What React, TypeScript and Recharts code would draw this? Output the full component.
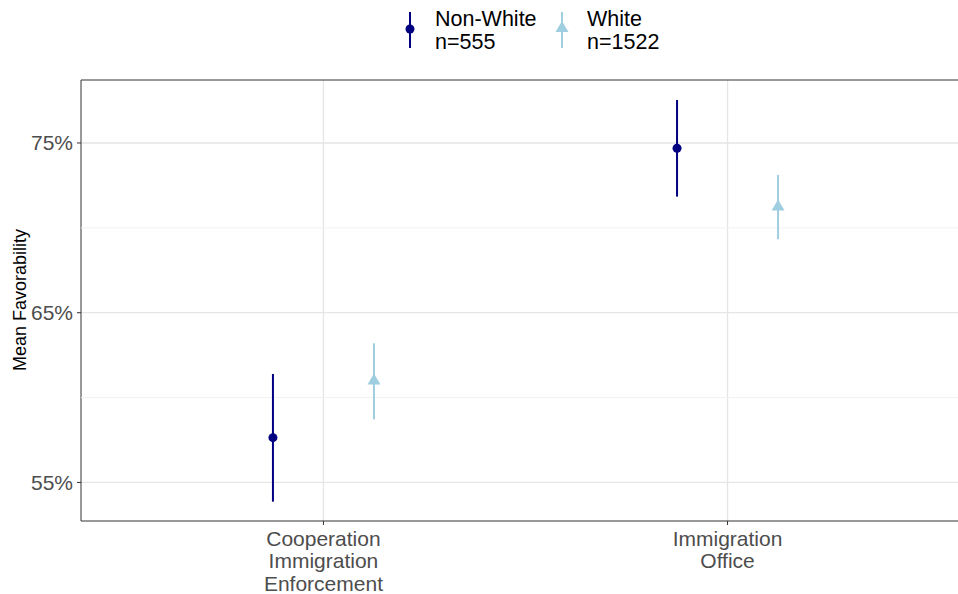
import React from "react";
import {
  CartesianGrid,
  ErrorBar,
  ReferenceArea,
  ReferenceLine,
  Scatter,
  ScatterChart,
  XAxis,
  YAxis,
} from "recharts";

// Two outcomes, two groups; point estimate with a confidence interval.
const CATEGORIES = ["Cooperation\nImmigration\nEnforcement", "Immigration\nOffice"];
const NON_WHITE_MEAN = [57.64, 74.69];
const NON_WHITE_LOW = [53.87, 71.84];
const NON_WHITE_HIGH = [61.39, 77.53];
const WHITE_MEAN = [61.04, 71.29];
const WHITE_LOW = [58.72, 69.33];
const WHITE_HIGH = [63.2, 73.12];
const Y_TICKS = [55, 65, 75];
const Y_MINOR = [60, 70];

const NAVY = "#000080";
const LIGHT = "#a0cee1";
const GRID = "#e5e5e5";
const GRID_MINOR = "#f1f1f1";
const AXIS_TEXT = "#4d4d4d";
const FONT = "'Liberation Sans', Arial, sans-serif";

const DODGE = 0.125;
const X_DOMAIN: [number, number] = [0.4, CATEGORIES.length + 0.6];
const Y_DOMAIN: [number, number] = [52.73, 78.71];

const build = (mean: number[], low: number[], high: number[], shift: number) =>
  mean.map((m, i) => ({
    x: i + 1 + shift,
    y: m,
    err: [m - low[i], high[i] - m],
  }));

const nonWhite = build(NON_WHITE_MEAN, NON_WHITE_LOW, NON_WHITE_HIGH, -DODGE);
const white = build(WHITE_MEAN, WHITE_LOW, WHITE_HIGH, DODGE);

function Dot(props: any) {
  const { cx, cy } = props;
  return <circle cx={cx} cy={cy} r={4.5} fill={NAVY} />;
}

function Tri(props: any) {
  const { cx, cy } = props;
  const s = 6.5;
  return (
    <path
      d={`M${cx},${cy - s} L${cx + s},${cy + s * 0.7} L${cx - s},${cy + s * 0.7} Z`}
      fill={LIGHT}
    />
  );
}

function CategoryTick(props: any) {
  const { x, y, payload } = props;
  const lines = CATEGORIES[Math.round(payload.value) - 1].split("\n");
  return (
    <text x={x} y={y} textAnchor="middle" fill={AXIS_TEXT} fontSize={21} fontFamily={FONT}>
      {lines.map((l, i) => (
        <tspan key={i} x={x} dy={i === 0 ? 18.5 : 22.5}>
          {l}
        </tspan>
      ))}
    </text>
  );
}

function LegendKey({ kind }: { kind: "dot" | "tri" }) {
  const color = kind === "dot" ? NAVY : LIGHT;
  return (
    <svg width={14} height={40} style={{ display: "block" }}>
      <line x1={7} x2={7} y1={2} y2={38} stroke={color} strokeWidth={2} />
      {kind === "dot" ? (
        <circle cx={7} cy={19} r={4.5} fill={color} />
      ) : (
        <path d="M7,11 L13.5,22 L0.5,22 Z" fill={color} />
      )}
    </svg>
  );
}

function LegendItem({ kind, name, n, left }: { kind: "dot" | "tri"; name: string; n: string; left: number }) {
  return (
    <div style={{ position: "absolute", left, top: 0 }}>
      <div style={{ position: "absolute", left: 0, top: 10 }}>
        <LegendKey kind={kind} />
      </div>
      <div
        style={{
          position: "absolute",
          left: 32,
          top: 8,
          fontSize: 21.5,
          lineHeight: "23px",
          color: "#000",
          fontFamily: FONT,
          whiteSpace: "nowrap",
        }}
      >
        <div>{name}</div>
        <div>{n}</div>
      </div>
    </div>
  );
}

export default function App() {
  return (
    <div
      style={{
        position: "absolute",
        left: 0,
        top: 0,
        width: 958,
        height: 594,
        overflow: "hidden",
        background: "#fff",
      }}
    >
      <LegendItem kind="dot" name="Non-White" n="n=555" left={403} />
      <LegendItem kind="tri" name="White" n="n=1522" left={555} />
      <div
        style={{
          position: "absolute",
          left: 20,
          top: 300,
          transform: "translate(-50%, -50%) rotate(-90deg)",
          fontSize: 18,
          fontFamily: FONT,
          color: "#000",
          whiteSpace: "nowrap",
        }}
      >
        Mean Favorability
      </div>
      <ScatterChart width={971} height={594} margin={{ top: 80, right: 1, bottom: 0, left: 0 }}>
        <CartesianGrid
          stroke={GRID}
          strokeWidth={1.3}
          horizontalValues={Y_TICKS}
          verticalValues={[1, 2]}
        />
        {Y_MINOR.map((v) => (
          <ReferenceLine key={v} y={v} stroke={GRID_MINOR} strokeWidth={1} />
        ))}
        <XAxis
          type="number"
          dataKey="x"
          domain={X_DOMAIN}
          ticks={[1, 2]}
          allowDataOverflow
          height={73}
          axisLine={false}
          tickLine={{ stroke: "#333" }}
          tickSize={4}
          tick={<CategoryTick />}
        />
        <YAxis
          type="number"
          dataKey="y"
          domain={Y_DOMAIN}
          ticks={Y_TICKS}
          allowDataOverflow
          width={81}
          axisLine={false}
          tickLine={{ stroke: "#333" }}
          tickSize={4}
          tickFormatter={(v: number) => `${v}%`}
          tick={{ fill: AXIS_TEXT, fontSize: 21, fontFamily: FONT, dx: -2 }}
        />
        <ReferenceArea
          x1={X_DOMAIN[0]}
          x2={X_DOMAIN[1]}
          y1={Y_DOMAIN[0]}
          y2={Y_DOMAIN[1]}
          fill="none"
          stroke="#333"
          strokeWidth={1}
        />
        <Scatter data={nonWhite} shape={<Dot />} isAnimationActive={false}>
          <ErrorBar dataKey="err" direction="y" width={0} stroke={NAVY} strokeWidth={2} />
        </Scatter>
        <Scatter data={white} shape={<Tri />} isAnimationActive={false}>
          <ErrorBar dataKey="err" direction="y" width={0} stroke={LIGHT} strokeWidth={2} />
        </Scatter>
      </ScatterChart>
    </div>
  );
}
